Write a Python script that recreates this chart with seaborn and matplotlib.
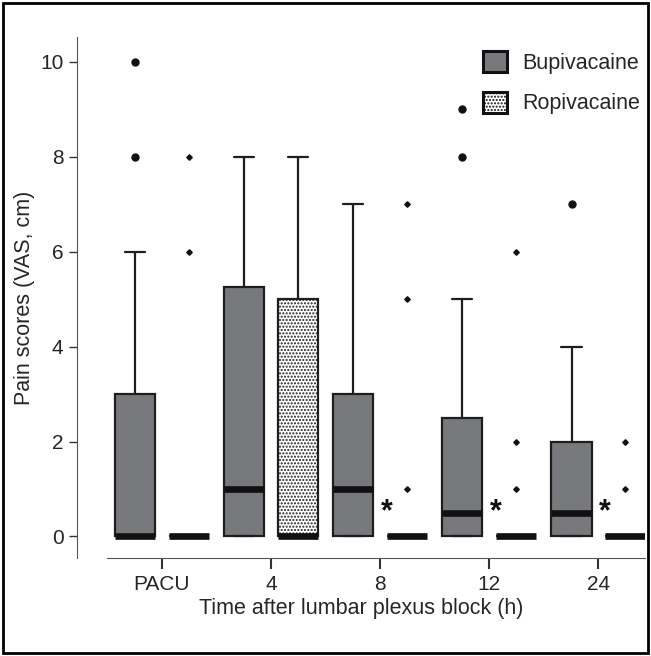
import numpy as np
import pandas as pd
import matplotlib.pyplot as plt
import seaborn as sns
from matplotlib.patches import Patch, Rectangle

# Time points and groups
times = ["PACU", "4", "8", "12", "24"]
groups = ["Bupivacaine", "Ropivacaine"]

# Pain scores (VAS, cm) per patient
bupi_pacu = [0] * 11 + [1, 1, 2, 2, 3, 3, 4, 6, 8, 10]
ropi_pacu = [0] * 19 + [6, 8]
bupi_4 = [0] * 7 + [1] * 6 + [2, 3, 4, 5, 5, 6, 6, 7, 7, 8, 8]
ropi_4 = [0] * 11 + [1, 2, 3, 4, 5, 6, 6, 7, 8, 8]
bupi_8 = [0] * 6 + [1] * 5 + [2, 2, 2, 2, 3, 4, 5, 6, 7, 7]
ropi_8 = [0] * 18 + [1, 5, 7]
bupi_12 = [0] * 11 + [1] * 5 + [3, 3, 4, 5, 8, 9]
ropi_12 = [0] * 18 + [1, 2, 6]
bupi_24 = [0] * 11 + [1] * 4 + [2, 2, 2, 3, 3, 4, 7]
ropi_24 = [0] * 19 + [1, 2]

# significant differences marked with *
star_times = ["8", "12", "24"]

bupi = [bupi_pacu, bupi_4, bupi_8, bupi_12, bupi_24]
ropi = [ropi_pacu, ropi_4, ropi_8, ropi_12, ropi_24]

rows = []
for t, b, r in zip(times, bupi, ropi):
    rows += [{"time": t, "group": "Bupivacaine", "vas": v} for v in b]
    rows += [{"time": t, "group": "Ropivacaine", "vas": v} for v in r]
df = pd.DataFrame(rows)

sns.set_style("ticks")
plt.rcParams["font.family"] = ["Liberation Sans", "DejaVu Sans"]
plt.rcParams["hatch.linewidth"] = 1.0

fig = plt.figure(figsize=(6.51, 6.56), dpi=100)
ax = fig.add_axes([0.118, 0.149, 0.873, 0.795])

gray = "#78797c"
edge = "#1e1e1e"
sns.boxplot(
    data=df, x="time", y="vas", hue="group", order=times, hue_order=groups,
    palette={"Bupivacaine": gray, "Ropivacaine": "white"},
    width=0.98, gap=0.25, linewidth=1.6, linecolor=edge, legend=False,
    medianprops=dict(color="#111111", linewidth=4.8, solid_capstyle="butt"),
    flierprops=dict(marker="o", markersize=5, markerfacecolor="#111111", markeredgecolor="#111111"),
    ax=ax,
)

# dotted fill for ropivacaine boxes
for p in ax.patches:
    fc = p.get_facecolor()
    if fc[0] > 0.9 and fc[1] > 0.9:
        p.set_hatch(".....")

# ropivacaine outliers drawn as small diamonds
for ln in ax.lines:
    if ln.get_marker() in ("o",):
        xd = np.asarray(ln.get_xdata(), dtype=float)
        if len(xd) and xd.mean() - np.round(xd.mean()) > 0:
            ln.set_marker("D")
            ln.set_markersize(2.8)

# asterisks
for t in star_times:
    ax.text(times.index(t) + 0.06, 0.5, "*", ha="center", va="center",
            fontsize=22, fontweight="bold", color="#111111")

ax.set_xlim(-0.78, 4.43)
ax.set_ylim(-0.46, 10.53)
ax.set_yticks([0, 2, 4, 6, 8, 10])
ax.spines["right"].set_visible(False)
ax.spines["top"].set_visible(False)
ax.spines["bottom"].set_bounds(-0.5, 4.43)
ax.spines["left"].set_color("#555555")
ax.spines["bottom"].set_color("#555555")
ax.tick_params(axis="y", length=6, width=1, color="#333333", labelsize=15)
ax.tick_params(axis="x", length=8, width=1.5, color="#333333", labelsize=15, pad=4)

ax.set_xlabel("Time after lumbar plexus block (h)", fontsize=15.5, labelpad=3)
ax.set_ylabel("Pain scores (VAS, cm)", fontsize=15.5, labelpad=4)

handles = [
    Patch(facecolor=gray, edgecolor="#111111", linewidth=2.2, label="Bupivacaine"),
    Patch(facecolor="white", edgecolor="#111111", linewidth=2.2, hatch=".....", label="Ropivacaine"),
]
ax.legend(handles=handles, loc="upper right", bbox_to_anchor=(1.025, 1.01), frameon=False,
          fontsize=15.5, handlelength=1.1, handleheight=1.1, labelspacing=0.85, handletextpad=0.7)

# outer frame
fig.patches.append(Rectangle((0.004, 0.004), 0.992, 0.992, transform=fig.transFigure,
                             fill=False, edgecolor="black", linewidth=2))

fig.savefig("out.png", dpi=100)
